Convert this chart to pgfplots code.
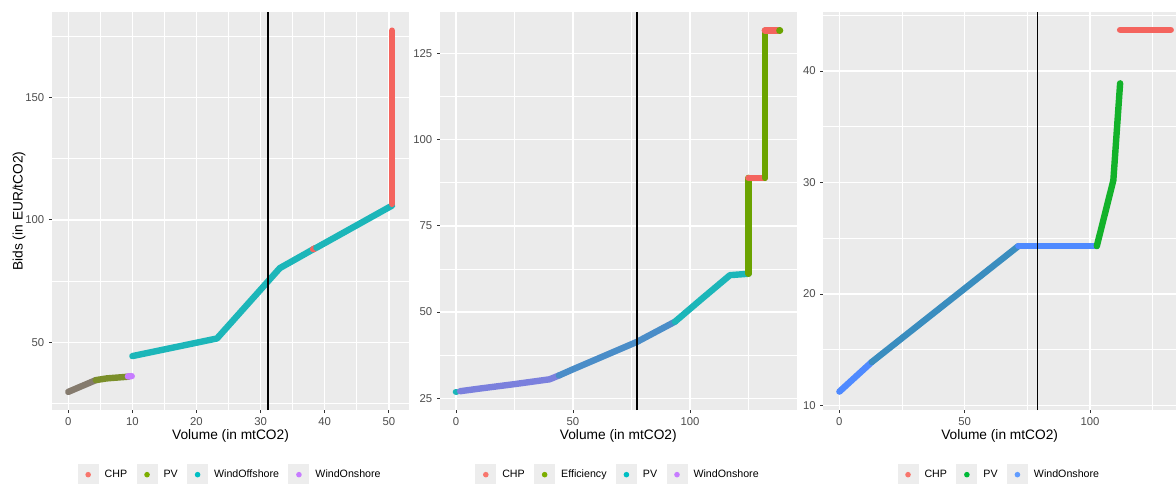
\documentclass[border=0pt]{standalone}
\usepackage{fontspec}
\setmainfont{Liberation Sans}
\usepackage{pgfplots}
\pgfplotsset{compat=1.18}
\definecolor{ggbg}{HTML}{EBEBEB}
\definecolor{ggkey}{HTML}{EDEDED}
\definecolor{gg20}{HTML}{333333}
\definecolor{gg30}{HTML}{4D4D4D}
\definecolor{ggred}{HTML}{F8766D}
\definecolor{ggredd}{HTML}{F4645E}
\definecolor{gggreen}{HTML}{7CAE00}
\definecolor{ggteal}{HTML}{00BFC4}
\definecolor{ggpurple}{HTML}{C77CFF}
\definecolor{gggreen3}{HTML}{00BA38}
\definecolor{ggblue3}{HTML}{619CFF}
\definecolor{mixA}{HTML}{857B6E}
\definecolor{olive}{HTML}{7B8F2A}
\definecolor{tealD}{HTML}{1CB6B9}
\definecolor{purpblue}{HTML}{7B80DD}
\definecolor{midblue}{HTML}{4A8DC8}
\definecolor{effgreen}{HTML}{6BA300}
\definecolor{blueC}{HTML}{4F8AFF}
\definecolor{midC}{HTML}{3A8DBF}
\definecolor{greenC}{HTML}{13B22A}
\pgfplotsset{ggstyle/.style={
  scale only axis, height=298.5pt,
  axis background/.style={fill=ggbg},
  axis line style={draw=none},
  grid=both,
  major grid style={white,line width=1.1pt},
  minor grid style={white,line width=0.55pt},
  tick align=outside, xtick pos=left, ytick pos=left,
  major tick length=2.25pt, minor tick length=0pt,
  tick style={color=gg20, line width=0.6pt},
  ticklabel style={font=\fontsize{8.5}{9}\selectfont, text=gg30},
  /pgf/number format/assume math mode=true,
  xlabel={Volume (in mtCO2)},
  every axis x label/.style={at={(axis description cs:0.5,0)}, anchor=center, yshift=-19.8pt, font=\fontsize{10.3}{12}\selectfont},
  every axis y label/.style={at={(axis description cs:-0.092,0.5)}, rotate=90, anchor=center, font=\fontsize{10.3}{12}\selectfont},
  legend style={at={(0.5,0)}, anchor=center, yshift=-48.5pt, draw=none, fill=none,
    font=\fontsize{8}{9}\selectfont, inner sep=0pt,
    /tikz/every odd column/.append style={column sep=2.5pt},
    /tikz/every even column/.append style={column sep=5pt}},
  legend columns=-1,
  legend image code/.code={\fill[ggkey, draw=none] (0pt,-7.875pt) rectangle (15.75pt,7.875pt); \fill[##1, draw=none] (7.875pt,0pt) circle (2.1pt);},
  every axis plot/.append style={line width=4.8pt, line cap=round, line join=round},
}}
\begin{document}
\begin{tikzpicture}
% ---------- Panel 1 ----------
\begin{axis}[ggstyle, at={(39pt,54.75pt)}, anchor=south west, width=267.75pt,
  xmin=-2.54, xmax=53.15, ymin=22.4, ymax=184.8,
  xtick={0,10,20,30,40,50}, minor xtick={5,15,25,35,45},
  ytick={50,100,150}, minor ytick={25,75,125,175},
  ylabel={Bids (in EUR/tCO2)}]
\addlegendimage{color=ggred}\addlegendentry{CHP}
\addlegendimage{color=gggreen}\addlegendentry{PV}
\addlegendimage{color=ggteal}\addlegendentry{WindOffshore}
\addlegendimage{color=ggpurple}\addlegendentry{WindOnshore}
\addplot[color=mixA, forget plot] coordinates {(0,29.8) (4.3,34.6)};
\addplot[color=olive, forget plot] coordinates {(4.3,34.6) (6,35.3) (9.4,36.0)};
\addplot[color=ggpurple, forget plot] coordinates {(9.3,36.1) (9.9,36.2)};
\addplot[color=tealD, forget plot] coordinates {(10,44.4) (23.2,51.6) (33.0,80.3) (38.5,88.4)};
\addplot[color=ggredd, forget plot] coordinates {(38.2,88.0) (38.6,88.5)};
\addplot[color=tealD, forget plot] coordinates {(38.7,88.6) (50.5,105.8)};
\addplot[color=ggredd, forget plot] coordinates {(50.5,106.5) (50.5,177.2)};
\addplot[color=black, line width=1.2pt, line cap=butt, forget plot] coordinates {(31.2,22.4) (31.2,184.8)};
\end{axis}
% ---------- Panel 2 ----------
\begin{axis}[ggstyle, at={(330pt,54.75pt)}, anchor=south west, width=267.5pt,
  xmin=-6.8, xmax=145.6, ymin=21.6, ymax=137.0,
  xtick={0,50,100}, minor xtick={25,75,125},
  ytick={25,50,75,100,125}, minor ytick={37.5,62.5,87.5,112.5}]
\addlegendimage{color=ggred}\addlegendentry{CHP}
\addlegendimage{color=gggreen}\addlegendentry{Efficiency}
\addlegendimage{color=ggteal}\addlegendentry{PV}
\addlegendimage{color=ggpurple}\addlegendentry{WindOnshore}
\addplot[color=tealD, forget plot] coordinates {(0,26.9) (0.3,26.9)};
\addplot[color=purpblue, forget plot] coordinates {(1.8,27.05) (10,27.8) (25,29.1) (40,30.5) (44,31.6)};
\addplot[color=midblue, forget plot] coordinates {(44,31.6) (50,33.4) (77.5,41.4) (93.6,47.2)};
\addplot[color=tealD, forget plot] coordinates {(93.6,47.2) (105,53.8) (117.1,60.7) (125,61.1)};
\addplot[color=effgreen, forget plot] coordinates {(125,61.1) (125,88.9)};
\addplot[color=ggredd, forget plot] coordinates {(125,88.9) (132,88.9)};
\addplot[color=effgreen, forget plot] coordinates {(132,88.9) (132,131.6)};
\addplot[color=ggredd, forget plot] coordinates {(132,131.6) (137.6,131.6)};
\addplot[color=effgreen, forget plot] coordinates {(138.2,131.6) (138.5,131.6)};
\addplot[color=black, line width=1.2pt, line cap=butt, forget plot] coordinates {(77.5,21.6) (77.5,137.0)};
\end{axis}
% ---------- Panel 3 ----------
\begin{axis}[ggstyle, at={(617.5pt,54.75pt)}, anchor=south west, width=264.5pt,
  xmin=-6.4, xmax=134.3, ymin=9.6, ymax=45.3,
  xtick={0,50,100}, minor xtick={25,75,125},
  ytick={10,20,30,40}, minor ytick={15,25,35,45}]
\addlegendimage{color=ggred}\addlegendentry{CHP}
\addlegendimage{color=gggreen3}\addlegendentry{PV}
\addlegendimage{color=ggblue3}\addlegendentry{WindOnshore}
\addplot[color=blueC, forget plot] coordinates {(0,11.25) (12.9,13.9)};
\addplot[color=midC, forget plot] coordinates {(12.9,13.9) (71.4,24.3)};
\addplot[color=blueC, forget plot] coordinates {(71.4,24.3) (102.7,24.3)};
\addplot[color=greenC, forget plot] coordinates {(102.7,24.3) (109.3,30.2) (110.6,34.4) (112,38.9)};
\addplot[color=ggredd, forget plot] coordinates {(112,43.7) (132.2,43.7)};
\addplot[color=black, line width=1.2pt, line cap=butt, forget plot] coordinates {(79.0,9.6) (79.0,45.3)};
\end{axis}
\pgfresetboundingbox
\path[use as bounding box] (0,0) rectangle (882pt,362.25pt);
\end{tikzpicture}
\end{document}
